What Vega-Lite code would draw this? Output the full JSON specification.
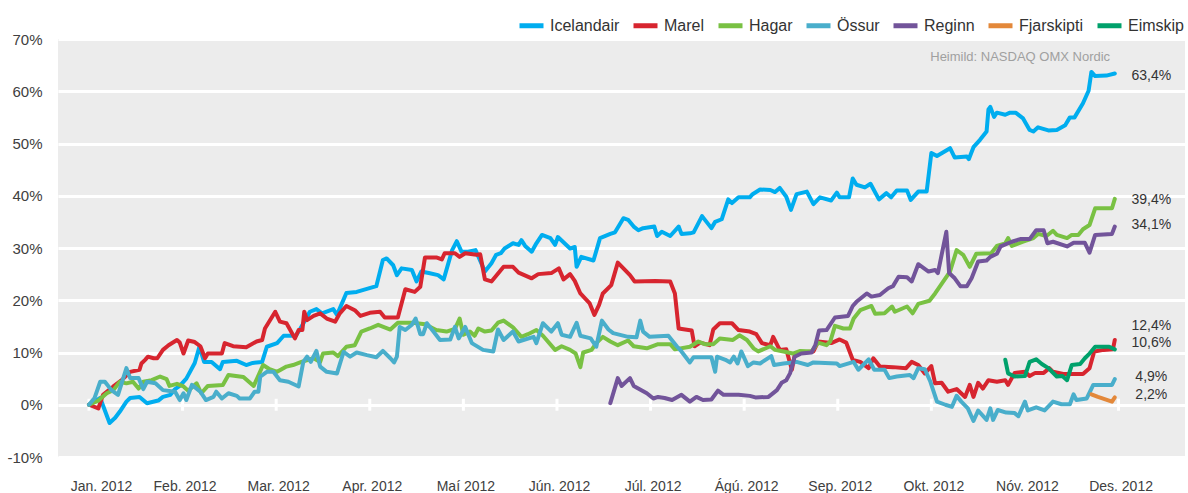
{
  "$schema": "https://vega.github.io/schema/vega-lite/v6.json",
  "width": 1127,
  "height": 418,
  "autosize": {"type": "none"},
  "padding": {"left": 58, "top": 39, "right": 3, "bottom": 36},
  "background": "white",
  "config": {
    "view": {"fill": "#ececec", "stroke": null},
    "font": "Liberation Sans",
    "legend": {"padding": 0}
  },
  "encoding": {
    "x": {
      "field": "m", "type": "quantitative",
      "scale": {"domain": [-0.331, 11.71], "nice": false, "zero": false},
      "axis": {
        "values": [0,1,2,3,4,5,6,7,8,9,10,11],
        "labelExpr": "['Jan. 2012','Feb. 2012','Mar. 2012','Apr. 2012','Maí 2012','Jún. 2012','Júl. 2012','Ágú. 2012','Sep. 2012','Okt. 2012','Nóv. 2012','Des. 2012'][datum.value]",
        "labelOffset": {"condition": {"test": "datum.value == 0", "value": 12}, "value": 2},
        "grid": false, "ticks": false, "domain": false,
        "labelFontSize": 14, "labelColor": "#404040", "labelPadding": 22,
        "title": null
      }
    },
    "y": {
      "field": "v", "type": "quantitative",
      "scale": {"domain": [-10, 70], "nice": false},
      "axis": {
        "values": [-10,0,10,20,30,40,50,60,70],
        "labelExpr": "datum.value + '%'",
        "grid": true, "gridColor": "white", "gridWidth": 3, "gridOpacity": 1,
        "ticks": false, "domain": false,
        "labelFontSize": 15, "labelColor": "#404040", "labelPadding": 16,
        "title": null
      }
    }
  },
  "layer": [
    {
      "data": {"values": [
        {"m":0,"v":0},{"m":1,"v":0},{"m":2,"v":0},{"m":3,"v":0},{"m":4,"v":0},{"m":5,"v":0},
        {"m":6,"v":0},{"m":7,"v":0},{"m":8,"v":0},{"m":9,"v":0},{"m":10,"v":0},{"m":11,"v":0}
      ]},
      "mark": {"type": "tick", "orient": "vertical", "color": "white", "thickness": 3, "size": 12, "opacity": 1}
    },
    {
      "data": {"values": [
        {"s": "Icelandair",
         "m": [0,0.12,0.22,0.28,0.33,0.40,0.44,0.54,0.62,0.74,0.79,0.87,0.92,0.97,1.04,1.13,1.18,1.23,1.31,1.40,1.43,1.58,1.68,1.75,1.85,1.90,2.01,2.08,2.21,2.25,2.36,2.43,2.49,2.61,2.65,2.75,2.86,3.07,3.14,3.18,3.25,3.29,3.34,3.45,3.50,3.55,3.63,3.73,3.79,3.88,3.93,3.98,4.05,4.13,4.23,4.30,4.35,4.40,4.44,4.53,4.59,4.62,4.66,4.73,4.78,4.84,4.93,4.98,5.01,5.14,5.19,5.21,5.26,5.39,5.46,5.57,5.62,5.71,5.76,5.82,5.87,5.92,6.04,6.07,6.12,6.21,6.30,6.33,6.42,6.46,6.55,6.65,6.69,6.76,6.83,6.87,6.94,7.06,7.09,7.17,7.28,7.33,7.38,7.45,7.50,7.56,7.67,7.74,7.81,7.93,7.99,8.02,8.12,8.16,8.20,8.29,8.35,8.44,8.52,8.57,8.63,8.74,8.78,8.86,8.95,9.00,9.06,9.20,9.25,9.38,9.40,9.45,9.52,9.59,9.61,9.63,9.67,9.70,9.79,9.84,9.90,9.98,10.05,10.09,10.14,10.25,10.34,10.43,10.48,10.53,10.62,10.68,10.71,10.75,10.87,10.96],
         "v": [0,1.3,-3.5,-2.5,-1.3,0.6,1.3,1.5,0.3,0.8,1.5,1.9,3.0,3.6,5.0,8.0,11.1,8.2,8.2,6.8,8.2,8.4,7.6,8.0,8.2,11.1,11.8,13.2,13.2,14.3,17.8,18.3,17.5,18.3,17.2,21.4,21.6,22.7,27.7,28.0,26.7,24.8,26.1,25.8,23.6,25.5,25.2,24.8,24.0,29.6,31.3,29.3,29.3,29.6,25.5,27.1,28.7,29.0,29.9,30.9,30.6,31.5,30.4,29.3,30.9,32.5,31.9,30.6,32.1,29.9,30.2,26.4,28.3,27.6,31.9,32.7,33.0,35.7,35.4,34.1,33.4,33.8,34.1,32.3,33.1,32.3,34.1,32.7,32.8,33.0,36.1,33.8,35.0,35.5,39.3,38.6,39.7,39.7,40.3,41.2,41.1,40.7,41.5,39.8,37.3,40.3,40.8,38.4,39.7,39.1,40.6,39.7,39.7,43.3,42.1,41.6,42.3,39.3,40.5,39.7,41.0,41.0,39.2,40.8,40.8,48.2,47.6,49.1,47.3,47.5,47.0,49.3,50.7,52.3,56.5,57.0,55.1,55.9,55.5,55.9,55.9,54.8,52.6,52.3,53.1,52.5,52.6,53.5,55.0,55.0,57.7,60.1,63.7,62.9,63.0,63.4]},
        {"s": "Marel",
         "m": [0,0.10,0.15,0.26,0.35,0.44,0.54,0.56,0.60,0.63,0.69,0.73,0.79,0.85,0.94,0.97,1.01,1.06,1.13,1.19,1.24,1.27,1.42,1.45,1.54,1.68,1.79,1.85,1.88,1.99,2.04,2.11,2.20,2.24,2.28,2.30,2.33,2.40,2.47,2.54,2.63,2.68,2.75,2.84,2.90,3.00,3.11,3.16,3.30,3.38,3.48,3.54,3.59,3.71,3.77,3.80,3.91,3.96,4.02,4.14,4.18,4.23,4.30,4.43,4.53,4.59,4.73,4.80,4.94,5.02,5.07,5.14,5.19,5.25,5.35,5.40,5.45,5.49,5.58,5.65,5.71,5.78,5.83,6.05,6.21,6.26,6.30,6.44,6.47,6.53,6.63,6.67,6.74,6.87,6.94,7.06,7.13,7.19,7.28,7.31,7.38,7.45,7.51,7.54,7.60,7.74,7.79,7.93,8.02,8.09,8.16,8.24,8.33,8.38,8.45,8.59,8.73,8.79,8.86,8.93,9.00,9.04,9.11,9.18,9.27,9.36,9.41,9.45,9.50,9.55,9.61,9.70,9.79,9.82,9.89,10.00,10.05,10.11,10.20,10.26,10.30,10.41,10.62,10.69,10.74,10.84,10.94,10.96],
         "v": [0,-0.7,1.9,3.5,4.7,6.3,6.7,7.9,8.6,9.2,8.9,8.9,10.5,11.4,12.4,11.9,9.8,12.3,12.0,11.2,8.9,9.8,9.8,11.8,11.2,11.0,12.1,12.4,14.6,17.8,15.9,15.6,12.7,14.3,14.3,17.8,16.2,17.0,17.5,16.5,15.9,17.5,18.9,18.1,17.0,17.6,17.8,16.7,16.7,22.1,21.6,22.6,28.2,28.2,27.8,29.0,29.0,28.3,29.0,28.7,28.8,24.0,23.6,26.4,26.4,25.3,24.2,25.0,25.2,26.1,24.0,25.0,23.7,21.3,19.4,17.2,19.1,21.3,22.9,27.2,26.1,24.8,23.6,23.7,23.6,21.3,14.6,14.2,11.2,11.9,11.4,14.4,15.6,15.6,14.3,14.0,13.5,11.8,11.4,13.0,10.5,10.6,6.7,9.5,10.0,10.2,12.1,11.8,12.5,11.9,8.6,8.2,7.0,8.9,7.3,7.2,7.0,8.2,7.6,6.0,7.4,4.1,4.2,2.5,3.0,1.5,3.8,1.5,4.2,3.1,4.7,4.4,4.7,3.8,6.1,6.3,5.5,6.1,6.1,7.0,6.3,5.9,5.9,7.0,10.2,10.5,10.6,12.4]},
        {"s": "Hagar",
         "m": [0,0.10,0.19,0.26,0.33,0.40,0.47,0.53,0.58,0.67,0.76,0.83,0.86,0.94,1.01,1.06,1.15,1.20,1.27,1.43,1.49,1.65,1.76,1.86,1.93,2.01,2.11,2.18,2.27,2.40,2.47,2.50,2.61,2.66,2.75,2.84,2.91,3.00,3.09,3.22,3.30,3.46,3.59,3.71,3.82,3.91,3.96,4.00,4.07,4.12,4.16,4.23,4.30,4.37,4.43,4.53,4.62,4.69,4.78,4.85,4.98,5.05,5.14,5.20,5.25,5.28,5.37,5.42,5.49,5.57,5.65,5.76,5.82,5.96,6.08,6.21,6.26,6.42,6.51,6.58,6.67,6.74,6.88,6.95,7.03,7.10,7.15,7.28,7.33,7.42,7.52,7.60,7.72,7.79,7.88,7.92,7.97,8.06,8.13,8.17,8.24,8.36,8.40,8.50,8.58,8.61,8.74,8.80,8.86,8.98,9.04,9.15,9.20,9.27,9.34,9.41,9.48,9.64,9.70,9.79,9.82,9.86,9.98,10.09,10.14,10.23,10.30,10.34,10.45,10.50,10.57,10.62,10.69,10.75,10.93,10.96],
         "v": [0,0.8,2.2,2.8,4.4,4.1,4.4,3.1,4.4,4.7,5.4,4.9,3.6,4.0,3.5,2.7,4.1,2.2,3.6,3.8,5.7,5.3,3.6,7.6,6.8,6.3,7.3,7.6,8.2,8.9,8.2,9.8,10.0,9.3,11.1,11.4,14.0,14.6,15.3,14.4,15.7,15.7,15.4,14.3,14.0,14.5,16.5,13.4,14.0,13.2,14.6,14.0,14.2,15.7,16.1,14.8,13.0,13.5,14.3,13.2,10.5,11.2,10.5,9.8,7.2,10.0,10.5,11.8,13.0,12.1,11.4,12.3,11.2,10.8,11.6,11.6,10.6,11.1,12.1,11.6,11.6,12.7,12.4,13.3,12.4,10.8,10.2,11.2,10.5,10.2,9.8,10.3,10.2,11.9,11.4,12.1,15.1,14.6,14.6,16.5,18.1,18.9,17.4,17.5,18.8,17.8,18.8,17.5,19.3,19.9,21.3,24.2,25.5,29.6,28.7,26.4,28.9,29.0,30.4,30.9,31.9,30.4,31.2,31.9,32.7,32.3,33.3,32.5,31.9,32.5,32.5,33.6,34.4,37.6,37.6,39.4]},
        {"s": "Össur",
         "m": [0,0.06,0.12,0.17,0.24,0.31,0.40,0.44,0.53,0.58,0.62,0.71,0.79,0.92,0.97,1.01,1.04,1.10,1.19,1.25,1.33,1.36,1.42,1.49,1.58,1.61,1.72,1.77,1.81,1.83,1.90,1.97,2.04,2.13,2.24,2.29,2.33,2.37,2.43,2.47,2.54,2.65,2.72,2.79,2.86,2.97,3.07,3.14,3.22,3.26,3.29,3.32,3.38,3.45,3.49,3.54,3.57,3.61,3.68,3.75,3.86,3.91,3.95,4.02,4.09,4.21,4.32,4.37,4.43,4.53,4.59,4.75,4.78,4.85,4.94,5.01,5.05,5.14,5.21,5.25,5.36,5.42,5.48,5.55,5.60,5.76,5.85,5.89,5.92,5.99,6.19,6.28,6.33,6.42,6.46,6.65,6.69,6.71,6.80,6.85,6.89,6.93,6.97,7.04,7.10,7.17,7.29,7.32,7.42,7.56,7.68,7.74,7.99,8.02,8.17,8.22,8.33,8.39,8.50,8.55,8.63,8.77,8.81,8.86,8.93,8.99,9.06,9.15,9.22,9.27,9.32,9.39,9.45,9.50,9.59,9.63,9.66,9.71,9.80,9.89,9.93,10.00,10.03,10.12,10.21,10.30,10.39,10.48,10.52,10.55,10.66,10.73,10.93,10.96],
         "v": [0,1.3,4.4,4.4,2.8,1.9,7.0,5.1,5.1,3.0,4.4,4.1,2.8,2.5,0.9,2.2,0.9,3.8,2.5,0.9,1.5,2.5,1.2,2.2,1.7,1.2,1.2,2.5,2.5,5.4,6.3,6.3,4.7,4.4,3.5,8.2,9.2,8.2,10.3,7.3,6.3,6.0,10.1,9.2,10.0,9.5,9.1,10.3,8.9,8.1,9.2,14.9,14.3,15.3,16.5,13.5,13.5,15.6,14.0,12.4,12.5,14.9,12.7,14.9,11.8,10.5,10.2,14.4,12.4,14.0,12.1,13.0,11.8,15.6,14.0,15.6,13.4,13.0,15.7,13.2,12.7,11.1,16.1,14.4,13.7,13.0,12.9,16.1,14.0,13.0,13.2,11.2,10.2,8.1,9.1,9.1,6.3,9.2,8.6,8.1,9.2,7.9,10.2,7.4,8.1,7.9,9.3,7.6,7.9,8.2,7.6,8.1,7.9,7.4,8.2,6.7,8.7,6.7,6.7,5.1,5.4,5.7,5.1,7.0,6.8,4.4,0.6,0.0,-0.4,1.7,0.6,-0.7,-3.1,-1.1,-2.9,-0.7,-2.9,-1.0,-1.5,-1.6,-2.2,0.6,-1.1,-0.5,-1.1,0.6,0.1,0.1,2.0,0.9,1.2,3.8,3.8,4.9]},
        {"s": "Reginn",
         "m": [5.57,5.65,5.69,5.78,5.82,5.96,6.03,6.08,6.15,6.23,6.33,6.42,6.49,6.56,6.65,6.72,6.78,6.94,7.06,7.12,7.26,7.35,7.40,7.45,7.49,7.54,7.61,7.72,7.76,7.80,7.88,7.97,8.11,8.16,8.20,8.31,8.36,8.45,8.54,8.59,8.65,8.74,8.79,8.86,8.97,9.04,9.07,9.16,9.19,9.25,9.31,9.38,9.43,9.50,9.59,9.63,9.70,9.74,9.86,9.95,10.05,10.12,10.20,10.24,10.30,10.45,10.52,10.64,10.69,10.75,10.93,10.96],
         "v": [0.3,5.1,3.6,5.1,3.6,2.2,1.2,1.5,1.3,0.9,1.9,0.6,1.5,0.9,1.0,2.7,1.9,1.9,1.7,1.4,1.5,2.8,4.2,4.7,6.0,9.2,9.8,10.0,11.4,14.2,14.3,16.7,17.0,18.9,19.7,21.3,20.7,21.0,22.3,22.7,24.5,24.4,23.6,26.9,25.5,25.8,25.2,33.1,25.2,24.2,22.7,22.7,24.2,27.4,27.6,28.3,28.9,30.3,31.2,31.7,31.7,33.4,33.4,30.9,31.2,30.3,31.0,31.0,29.1,32.5,32.7,34.1]},
        {"s": "Fjarskipti",
         "m": [10.71,10.78,10.93,10.96],
         "v": [2.0,1.5,0.6,1.4]},
        {"s": "Eimskip",
         "m": [9.79,9.82,9.89,10.00,10.05,10.12,10.18,10.25,10.34,10.40,10.45,10.50,10.59,10.64,10.69,10.75,10.90,10.96],
         "v": [8.6,6.0,5.4,5.5,8.2,8.7,7.8,7.0,5.4,5.5,4.7,7.6,7.8,8.9,9.8,11.1,11.1,10.6]}
      ]},
      "transform": [{"flatten": ["m", "v"]}],
      "mark": {"type": "line", "strokeWidth": 4, "strokeJoin": "round", "strokeCap": "round"},
      "encoding": {
        "color": {
          "field": "s", "type": "nominal",
          "scale": {
            "domain": ["Icelandair","Marel","Hagar","Össur","Reginn","Fjarskipti","Eimskip"],
            "range": ["#00adef","#d7252f","#79c143","#49aecb","#72549a","#e3883a","#00a16b"]
          },
          "legend": {
            "orient": "none", "legendX": 459, "legendY": -28,
            "direction": "horizontal", "title": null,
            "symbolType": "stroke", "symbolSize": 576, "symbolStrokeWidth": 5,
            "labelFontSize": 16, "labelOffset": 4, "columnPadding": 3,
            "labelColor": "#333333", "labelLimit": 200
          }
        }
      }
    },
    {
      "data": {"values": [
        {"label":"63,4%","m":11.35,"v":62.9},
        {"label":"39,4%","m":11.35,"v":39.2},
        {"label":"34,1%","m":11.35,"v":34.4},
        {"label":"12,4%","m":11.35,"v":15.1},
        {"label":"10,6%","m":11.35,"v":11.8},
        {"label":"4,9%","m":11.35,"v":5.3},
        {"label":"2,2%","m":11.35,"v":1.9}
      ]},
      "mark": {"type": "text", "align": "center", "baseline": "middle", "fontSize": 14, "color": "#333333"},
      "encoding": {
        "text": {"field": "label"}
      }
    },
    {
      "data": {"values": [
        {"label":"Heimild: NASDAQ OMX Nordic","m":10.91,"v":66.5}
      ]},
      "mark": {"type": "text", "align": "right", "baseline": "middle", "fontSize": 13, "color": "#a0a0a0"},
      "encoding": {
        "text": {"field": "label"}
      }
    }
  ]
}
